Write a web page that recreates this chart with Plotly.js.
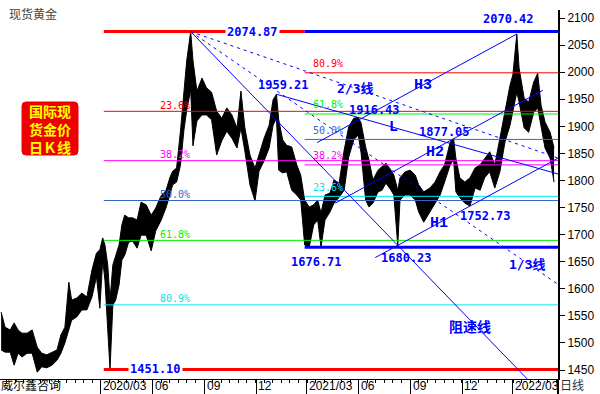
<!DOCTYPE html>
<html><head><meta charset="utf-8">
<script src="https://cdn.plot.ly/plotly-3.0.1.min.js"></script>
<style>html,body{margin:0;padding:0;background:#fff}#chart{width:600px;height:394px}</style>
</head><body><div id="chart"></div>
<script>
// ---- price series (~9-day samples: high / low) ----
const dates = ['2019-09-06','2019-09-13','2019-09-22','2019-09-29','2019-10-06','2019-10-13','2019-10-22','2019-10-31','2019-11-09','2019-11-17','2019-11-26','2019-12-05','2019-12-14','2019-12-21','2019-12-28','2020-01-04','2020-01-09','2020-01-18','2020-01-27','2020-02-05','2020-02-14','2020-02-22','2020-02-28','2020-03-04','2020-03-08','2020-03-13','2020-03-17','2020-03-22','2020-03-27','2020-04-02','2020-04-07','2020-04-12','2020-04-19','2020-04-26','2020-05-04','2020-05-11','2020-05-20','2020-05-29','2020-06-06','2020-06-15','2020-06-24','2020-07-01','2020-07-06','2020-07-13','2020-07-20','2020-07-26','2020-07-31','2020-08-07','2020-08-11','2020-08-18','2020-08-27','2020-09-04','2020-09-13','2020-09-22','2020-10-01','2020-10-10','2020-10-19','2020-10-28','2020-11-04','2020-11-11','2020-11-20','2020-11-29','2020-12-06','2020-12-15','2020-12-24','2020-12-31','2021-01-06','2021-01-10','2021-01-17','2021-01-24','2021-02-02','2021-02-11','2021-02-18','2021-02-25','2021-03-05','2021-03-13','2021-03-20','2021-03-26','2021-04-02','2021-04-11','2021-04-18','2021-04-27','2021-05-06','2021-05-14','2021-05-23','2021-05-31','2021-06-05','2021-06-13','2021-06-19','2021-06-26','2021-07-05','2021-07-12','2021-07-19','2021-07-28','2021-08-02','2021-08-09','2021-08-13','2021-08-22','2021-08-31','2021-09-09','2021-09-15','2021-09-24','2021-10-05','2021-10-14','2021-10-23','2021-10-31','2021-11-10','2021-11-16','2021-11-20','2021-11-27','2021-12-06','2021-12-15','2021-12-24','2022-01-02','2022-01-10','2022-01-19','2022-01-28','2022-02-06','2022-02-15','2022-02-24','2022-03-01','2022-03-08','2022-03-12','2022-03-21','2022-03-29','2022-04-07','2022-04-14','2022-04-20','2022-04-27','2022-05-06','2022-05-13'];
const highs = [1557,1529,1524,1537,1524,1518,1518,1524,1492,1481,1478,1483,1487,1515,1529,1612,1579,1583,1592,1585,1635,1666,1672,1694,1681,1644,1579,1644,1662,1681,1718,1736,1731,1731,1727,1760,1755,1736,1749,1771,1781,1805,1817,1823,1893,1958,2022,2074.87,2022,1965,1989,1971,1963,1928,1915,1934,1921,1897,1965,1897,1847,1823,1847,1878,1902,1949,1959.21,1912,1875,1865,1862,1829,1810,1764,1751,1755,1764,1740,1773,1777,1801,1795,1856,1899,1915,1916.43,1906,1862,1838,1801,1819,1825,1832,1819,1810,1782,1805,1816,1819,1810,1792,1779,1786,1797,1816,1829,1871,1877.05,1841,1805,1797,1805,1823,1829,1841,1853,1829,1878,1921,1976,1995,2070.42,2008,1952,1945,1982,1998,1939,1908,1889,1860];
const lows = [1487,1483,1483,1459,1481,1474,1481,1481,1446,1456,1454,1459,1468,1481,1500,1524,1542,1548,1561,1561,1585,1622,1564,1653,1616,1524,1451.10,1570,1579,1607,1653,1662,1686,1688,1675,1699,1699,1670,1707,1725,1749,1773,1792,1797,1829,1893,1930,1967,1864,1910,1921,1921,1912,1847,1873,1891,1878,1860,1897,1854,1792,1762,1817,1836,1860,1902,1915,1819,1814,1816,1782,1773,1764,1681,1676.71,1718,1727,1676.71,1727,1742,1758,1769,1782,1843,1875,1884,1851,1764,1751,1758,1779,1782,1795,1782,1773,1680.23,1764,1773,1773,1764,1742,1723,1742,1755,1773,1797,1829,1838,1779,1768,1758,1752.73,1786,1782,1805,1816,1786,1816,1871,1902,1926,1963,1945,1897,1889,1926,1934,1902,1860,1841,1797];

// ---- axes ----
const tickDates = ['2020-03-01','2020-06-01','2020-09-01','2020-12-01','2021-03-01','2021-06-01','2021-09-01','2021-12-01','2022-03-01'];
const tickLabels = ['2020/03','06','09','12','2021/03','06','09','12','2022/03'];
const priceTicks = [1450,1500,1550,1600,1650,1700,1750,1800,1850,1900,1950,2000,2050,2100];

// ---- pivots ----
const topDate = '2020-08-07', topPrice = 2074.87;
const bottomPrice = 1451.10;
const lowDate2 = '2021-03-08', lowPrice2 = 1676.71;
const janDate = '2021-01-06', janHigh = 1959.21;
const juneDate = '2021-05-31', juneHigh = 1916.43;
const augDate = '2021-08-09', augLow = 1680.23;
const novDate = '2021-11-16', novHigh = 1877.05;
const decDate = '2021-12-15', decLow = 1752.73;
const peakDate2 = '2022-03-08', peakPrice2 = 2070.42;

// ---- fibonacci ----
const fibRatios = [0.236, 0.382, 0.5, 0.618, 0.809];
const fibLabels = ['23.6%','38.2%','50.0%','61.8%','80.9%'];
const fibColorsDown = ['#ff0000','#ff00ff','#3366cc','#00ee00','#00e5ee'];
const fibColorsUp = ['#00e5ee','#ff00ff','#3366cc','#00ee00','#ff0000'];

// ---- geometry helpers ----
const xStart = '2019-09-04', xEnd = '2022-05-20';
const yMin = 1433.4, yMax = 2114.8;
const ms = d => Date.parse(d + 'T00:00:00Z');
const toStr = t => new Date(t).toISOString().slice(0,19).replace('T',' ');
const priceAt = (d0,p0,d1,p1,t) => p0 + (p1-p0)*(t-ms(d0))/(ms(d1)-ms(d0));
const dateAt = (d0,p0,d1,p1,p) => ms(d0) + (ms(d1)-ms(d0))*(p-p0)/(p1-p0);

const BLUE = '#0000ff', RED = '#ff0000';
const shapes = [];
function seg(x0,y0,x1,y1,color,width,dash){
  shapes.push({type:'line',xref:'x',yref:'y',x0,y0,x1,y1,layer:'above',
    line:{color,width,dash:dash||'solid'}});
}
const set1Start = '2020-03-06', set2Start = '2021-02-25';
const annotations = [];
fibRatios.forEach((r,i)=>{
  const lv = topPrice - r*(topPrice-bottomPrice);
  seg(set1Start, lv, xEnd, lv, fibColorsDown[i], 1);
  annotations.push({x:'2020-06-10', y:lv, xref:'x', yref:'y', xanchor:'left', yanchor:'middle', yshift:6,
    text:fibLabels[i], showarrow:false, font:{family:'DejaVu Sans Mono', size:10, color:fibColorsDown[i]}});
});
fibRatios.forEach((r,i)=>{
  const lv = lowPrice2 + r*(topPrice-lowPrice2);
  seg(set2Start, lv, xEnd, lv, fibColorsUp[i], 1);
  annotations.push({x:'2021-03-08', y:lv, xref:'x', yref:'y', xanchor:'left', yanchor:'middle', yshift:9,
    text:fibLabels[i], showarrow:false, font:{family:'DejaVu Sans Mono', size:10, color:fibColorsUp[i]}});
});
seg(set1Start, topPrice, set2Start, topPrice, RED, 3);
seg(set2Start, topPrice, xEnd, topPrice, BLUE, 3);
seg(set1Start, bottomPrice, xEnd, bottomPrice, RED, 3);
seg(set2Start, lowPrice2, xEnd, lowPrice2, BLUE, 3);

const tSpeedEnd = dateAt(topDate, topPrice, augDate, augLow, yMin);
seg(topDate, topPrice, toStr(tSpeedEnd), yMin, BLUE, 1);
const p23 = topPrice - (topPrice-augLow)/3;
const p13 = topPrice - 2*(topPrice-augLow)/3;
seg(topDate, topPrice, xEnd, priceAt(topDate, topPrice, augDate, p23, ms(xEnd)), BLUE, 1, '3px,4px');
seg(topDate, topPrice, xEnd, priceAt(topDate, topPrice, augDate, p13, ms(xEnd)), BLUE, 1, '3px,4px');
seg(janDate, janHigh, xEnd, priceAt(janDate, janHigh, juneDate, juneHigh, ms(xEnd)), BLUE, 1);
const slope = (decLow-augLow)/(ms(decDate)-ms(augDate));
const chan = (d0,p0,a,b) => seg(a, p0+slope*(ms(a)-ms(d0)), b, p0+slope*(ms(b)-ms(d0)), BLUE, 1);
chan(augDate, augLow, '2021-06-30', xEnd);
chan(novDate, novHigh, '2021-04-20', '2022-04-23');
chan(peakDate2, peakPrice2, '2021-03-19', peakDate2);

shapes.push({type:'line',xref:'paper',yref:'paper',x0:1,x1:1,y0:0,y1:-15/369,line:{color:'black',width:2}});
// red badge with rounded corners
shapes.push({type:'path',xref:'paper',yref:'paper',xsizemode:'pixel',ysizemode:'pixel',
  xanchor:22/558,yanchor:(379-155)/369,
  path:'M4,0 L52,0 Q56,0 56,4 L56,49 Q56,53 52,53 L4,53 Q0,53 0,49 L0,4 Q0,0 4,0 Z',
  fillcolor:'#ee0000',line:{color:'#ee0000',width:1},layer:'above'});

const numFont = {family:'DejaVu Sans Mono', size:12, color:BLUE};
function lab(x,y,text,xs,ys,bg){
  annotations.push({x,y,xref:'x',yref:'y',text:'<b>'+text+'</b>',showarrow:false,xshift:xs||0,yshift:ys||0,
    font:numFont, bgcolor:bg||'rgba(0,0,0,0)', borderpad:1});
}
lab('2020-11-24', topPrice, topPrice.toFixed(2), 0, 0, '#ffffff');
lab('2020-06-06', bottomPrice, bottomPrice.toFixed(2), 0, 0, '#ffffff');
lab(peakDate2, peakPrice2, peakPrice2.toFixed(2), -8, 15);
lab(janDate, janHigh, janHigh.toFixed(2), 7, 9);
lab(juneDate, juneHigh, juneHigh.toFixed(2), 16, 7);
lab(novDate, novHigh, novHigh.toFixed(2), -9, 7);
lab(decDate, decLow, decLow.toFixed(2), 16, -10);
lab(augDate, augLow, augLow.toFixed(2), 9, -13);
lab(lowDate2, lowPrice2, lowPrice2.toFixed(2), 6, -15);

const lineFont = {family:'DejaVu Sans Mono, Noto Sans CJK SC', size:13, color:BLUE};
const hFont = {family:'Liberation Mono', size:15, color:BLUE};
const tl = (x,y,text,font) => annotations.push({x,y,xref:'x',yref:'y',text:'<b>'+text+'</b>',showarrow:false,font});
tl('2021-05-25', 1970.7, '2/3线', lineFont);
tl('2022-03-26', 1645.7, '1/3线', lineFont);
tl('2021-12-15', 1531, '阻速线', {family:'Noto Sans CJK SC', size:14, color:BLUE});
tl('2021-09-23', 1976, 'H3', hFont);
tl('2021-08-02', 1897, 'L', hFont);
tl('2021-10-14', 1852.5, 'H2', hFont);
tl('2021-10-21', 1721, 'H1', hFont);

// bottom label row (ends at the bottom edge of the picture)
const rowY = -15/369;
const rowFont = {family:'Liberation Sans, Arial',size:12,color:'black'};
tickDates.forEach((d,i)=>annotations.push({x:d,y:rowY,xref:'x',yref:'paper',xanchor:'left',yanchor:'bottom',xshift:1,
  text:tickLabels[i],showarrow:false,font:rowFont,borderpad:0}));
annotations.push({x:0,y:rowY,xref:'paper',yref:'paper',xanchor:'left',yanchor:'bottom',text:'威尔鑫咨询',showarrow:false,borderpad:0,
  font:{family:'Noto Sans CJK SC',size:12,color:'black'}});
annotations.push({x:1,y:rowY,xref:'paper',yref:'paper',xanchor:'left',yanchor:'bottom',xshift:1,text:'日线',showarrow:false,borderpad:0,
  font:{family:'Noto Sans CJK SC',size:12,color:'#333'}});
annotations.push({x:7/558,y:(379-14)/369,xref:'paper',yref:'paper',xanchor:'left',yanchor:'middle',text:'现货黄金',showarrow:false,
  font:{family:'Noto Sans CJK SC',size:12,color:'#444'}});
annotations.push({x:50/558,y:(379-129)/369,xref:'paper',yref:'paper',xanchor:'center',yanchor:'middle',
  text:'<b>国际现<br>货金价<br>日Ｋ线</b>',showarrow:false,
  font:{family:'Noto Sans CJK SC',size:14,color:'#ffff00'}});

const traces = [
  {x:dates, y:highs, type:'scatter', mode:'lines', line:{color:'black', width:1}, hoverinfo:'skip'},
  {x:dates, y:lows, type:'scatter', mode:'lines', line:{color:'black', width:1}, fill:'tonexty', fillcolor:'#000000', hoverinfo:'skip'}
];

const layout = {
  width:600, height:394, margin:{l:0,r:42,t:10,b:15},
  paper_bgcolor:'#ffffff', plot_bgcolor:'#ffffff', showlegend:false,
  xaxis:{type:'date', range:[xStart,xEnd], showgrid:false, zeroline:false, showline:true, linecolor:'black', linewidth:1,
    ticks:'outside', ticklen:15, tickcolor:'black', tickvals:tickDates, showticklabels:false,
    minor:{ticks:'outside', ticklen:3, tickcolor:'black', dtick:15.22*86400000, tick0:'2020-03-01', showgrid:false}},
  yaxis:{side:'right', range:[yMin,yMax], tickvals:priceTicks, showgrid:false, zeroline:false, showline:true,
    linecolor:'black', linewidth:2, ticks:'outside', ticklen:5, tickcolor:'black',
    tickfont:{family:'Liberation Sans, Arial', size:12, color:'black'}},
  shapes, annotations
};
Plotly.newPlot('chart', traces, layout, {staticPlot:true, displayModeBar:false});
</script>
</body></html>
